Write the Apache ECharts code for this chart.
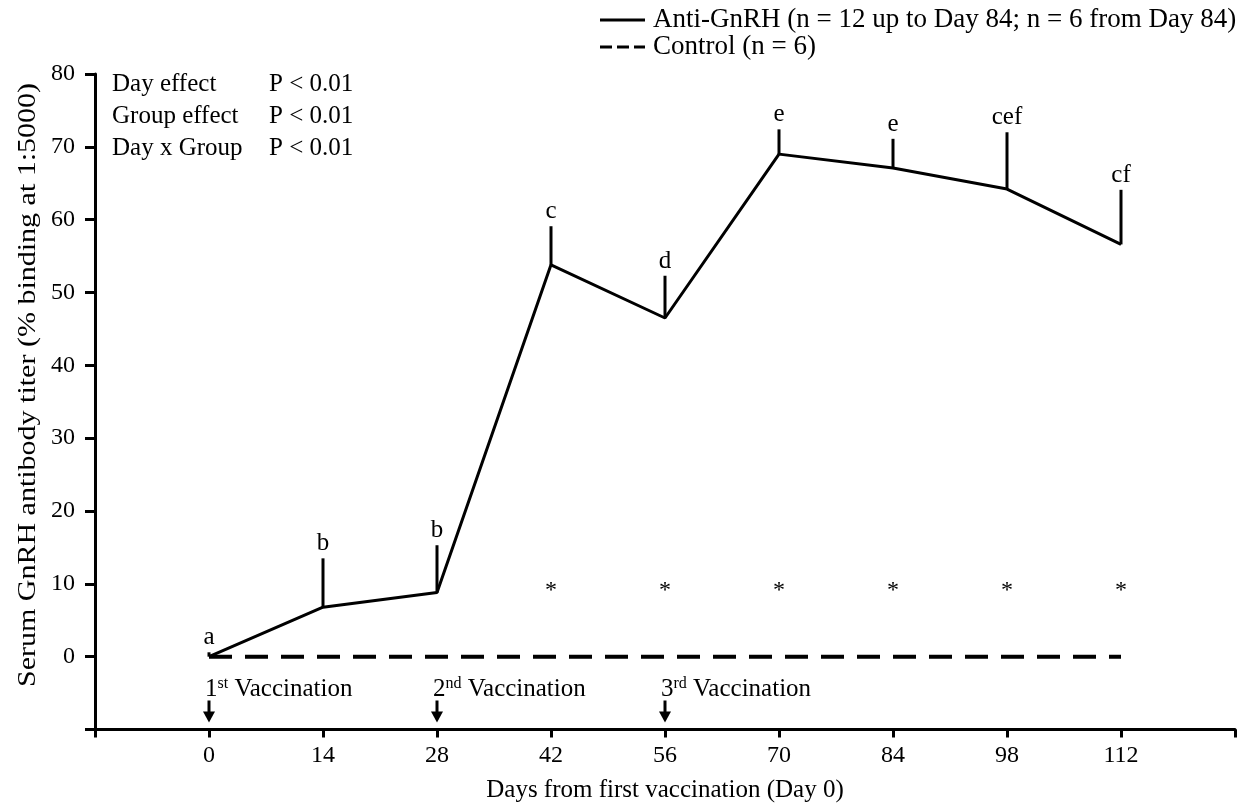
<!DOCTYPE html>
<html>
<head>
<meta charset="utf-8">
<title>Serum GnRH antibody titer</title>
<script src="https://cdn.jsdelivr.net/npm/echarts@6/dist/echarts.min.js"></script>
<style>
  html, body { margin: 0; padding: 0; background: #fff; }
  #chart { width: 1244px; height: 808px; }
</style>
</head>
<body>
<div id="chart"></div>
<script>
// Sampling days (days from first vaccination)
const days = [0, 14, 28, 42, 56, 70, 84, 98, 112];
// Anti-GnRH group: mean titer and top of the error bar (mean + SE)
const antiGnRH = [0, 6.8, 8.8, 53.8, 46.5, 69.0, 67.1, 64.2, 56.6];
const antiGnRHUpper = [0.6, 13.5, 15.3, 59.1, 52.3, 72.4, 71.1, 72.0, 64.1];
// Letters marking differences between days within the Anti-GnRH group
const dayLetters = ['a', 'b', 'b', 'c', 'd', 'e', 'e', 'cef', 'cf'];
// Control group mean titer
const control = [0, 0, 0, 0, 0, 0, 0, 0, 0];
// Days where the groups differ (asterisks) and where they are drawn on the y scale
const starDays = [42, 56, 70, 84, 98, 112];
const starLevel = 9;
// Vaccination days with their ordinal labels
const vaccDays = [0, 28, 56];
const vaccOrdinals = [['1', 'st'], ['2', 'nd'], ['3', 'rd']];
// Statistics summary
const statNames = ['Day effect', 'Group effect', 'Day x Group'];
const statValues = ['P < 0.01', 'P < 0.01', 'P < 0.01'];
// Series names shown in the key
const seriesNames = ['Anti-GnRH (n = 12 up to Day 84; n = 6 from Day 84)', 'Control (n = 6)'];

const FONT = '"Liberation Serif", "Times New Roman", serif';
const FS = 25;      // annotation / title text
const FS_TICK = 24; // tick labels
const FS_KEY = 27;  // key text

const chart = echarts.init(document.getElementById('chart'), null, { renderer: 'canvas' });

const statGraphics = [];
statNames.forEach((name, i) => {
  statGraphics.push({
    type: 'text', x: 112, y: 84 + i * 32,
    style: { text: name, font: FS + 'px ' + FONT, fill: '#000', verticalAlign: 'middle' }
  });
  statGraphics.push({
    type: 'text', x: 269, y: 84 + i * 32,
    style: { text: statValues[i], font: FS + 'px ' + FONT, fill: '#000', verticalAlign: 'middle' }
  });
});

// Key: line samples with their labels
const keyGraphics = [
  { type: 'line', shape: { x1: 600, y1: 20, x2: 645, y2: 20 }, style: { stroke: '#000', lineWidth: 3 } },
  { type: 'text', x: 653, y: 20, style: { text: seriesNames[0], font: FS_KEY + 'px ' + FONT, fill: '#000', verticalAlign: 'middle' } },
  { type: 'line', shape: { x1: 600, y1: 47, x2: 645, y2: 47 }, style: { stroke: '#000', lineWidth: 3, lineDash: [12, 5] } },
  { type: 'text', x: 653, y: 47, style: { text: seriesNames[1], font: FS_KEY + 'px ' + FONT, fill: '#000', verticalAlign: 'middle' } }
];

const option = {
  animation: false,
  backgroundColor: '#fff',
  textStyle: { fontFamily: FONT, color: '#000' },
  grid: { left: 95, right: 9, top: 74, bottom: 78.5, containLabel: false },
  xAxis: {
    type: 'value',
    min: -14,
    max: 126,
    interval: 14,
    name: 'Days from first vaccination (Day 0)',
    nameLocation: 'middle',
    nameGap: 48,
    nameTextStyle: { fontFamily: FONT, fontSize: FS, color: '#000' },
    axisLine: { show: true, onZero: false, lineStyle: { color: '#000', width: 3 } },
    axisTick: { show: true, inside: false, length: 8, lineStyle: { color: '#000', width: 3 } },
    axisLabel: {
      margin: 14,
      fontFamily: FONT, fontSize: FS_TICK, color: '#000',
      showMinLabel: true, showMaxLabel: true,
      formatter: v => (v < 0 || v > 112) ? '' : String(v)
    },
    splitLine: { show: false }
  },
  yAxis: {
    type: 'value',
    min: -10,
    max: 80,
    interval: 10,
    axisLine: { show: true, onZero: false, lineStyle: { color: '#000', width: 3 } },
    axisTick: { show: true, inside: false, length: 10, lineStyle: { color: '#000', width: 3 } },
    axisLabel: {
      margin: 20,
      fontFamily: FONT, fontSize: FS_TICK, color: '#000',
      formatter: v => v < 0 ? '' : String(v)
    },
    splitLine: { show: false }
  },
  graphic: [
    {
      type: 'text',
      x: 28, y: 385,
      rotation: Math.PI / 2,
      scaleX: 1.2,
      style: {
        text: 'Serum GnRH antibody titer (% binding at 1:5000)',
        font: FS + 'px ' + FONT, fill: '#000',
        align: 'center', verticalAlign: 'middle'
      }
    }
  ].concat(statGraphics, keyGraphics),
  series: [
    {
      name: seriesNames[1],
      type: 'line',
      data: days.map((d, i) => [d, control[i]]),
      symbol: 'none',
      clip: false,
      z: 2,
      lineStyle: { color: '#000', width: 4, type: [23, 13] }
    },
    {
      name: seriesNames[0],
      type: 'line',
      data: days.map((d, i) => [d, antiGnRH[i]]),
      symbol: 'none',
      clip: false,
      z: 3,
      lineStyle: { color: '#000', width: 3 }
    },
    {
      // upper error bars with day letters
      name: 'errorbars',
      type: 'custom',
      data: days.map((d, i) => [d, antiGnRH[i], antiGnRHUpper[i]]),
      z: 4,
      clip: false,
      renderItem: (params, api) => {
        const p0 = api.coord([api.value(0), api.value(1)]);
        const p1 = api.coord([api.value(0), api.value(2)]);
        return {
          type: 'group',
          children: [
            {
              type: 'line',
              shape: { x1: p0[0], y1: p0[1], x2: p1[0], y2: p1[1] },
              style: { stroke: '#000', lineWidth: 3 }
            },
            {
              type: 'text',
              x: p1[0], y: p1[1] - 2,
              style: {
                text: dayLetters[params.dataIndex],
                font: FS + 'px ' + FONT, fill: '#000',
                align: 'center', verticalAlign: 'bottom'
              }
            }
          ]
        };
      }
    },
    {
      // asterisks for group differences
      name: 'stars',
      type: 'custom',
      data: starDays.map(d => [d, starLevel]),
      z: 4,
      renderItem: (params, api) => {
        const p = api.coord([api.value(0), api.value(1)]);
        return {
          type: 'text',
          x: p[0], y: p[1],
          style: {
            text: '*', font: FS_TICK + 'px ' + FONT, fill: '#000',
            align: 'center', verticalAlign: 'middle'
          }
        };
      }
    },
    {
      // vaccination arrows and labels
      name: 'vaccinations',
      type: 'custom',
      data: vaccDays.map(d => [d, -10]),
      z: 4,
      clip: false,
      renderItem: (params, api) => {
        const base = api.coord([api.value(0), api.value(1)]);
        const x = base[0], y = base[1];
        const ord = vaccOrdinals[params.dataIndex];
        return {
          type: 'group',
          children: [
            {
              type: 'line',
              shape: { x1: x, y1: y - 29, x2: x, y2: y - 15 },
              style: { stroke: '#000', lineWidth: 3 }
            },
            {
              type: 'polygon',
              shape: { points: [[x - 6, y - 18], [x + 6, y - 18], [x, y - 7]] },
              style: { fill: '#000' }
            },
            {
              type: 'text',
              x: x - 4, y: y - 40,
              style: {
                text: '{n|' + ord[0] + '}{s|' + ord[1] + '}{n| Vaccination}',
                align: 'left', verticalAlign: 'middle',
                fill: '#000',
                rich: {
                  n: { fontFamily: FONT, fontSize: FS, fill: '#000', lineHeight: 28 },
                  s: { fontFamily: FONT, fontSize: 16, fill: '#000', verticalAlign: 'top', lineHeight: 16 }
                }
              }
            }
          ]
        };
      }
    }
  ]
};

chart.setOption(option);
</script>
</body>
</html>
